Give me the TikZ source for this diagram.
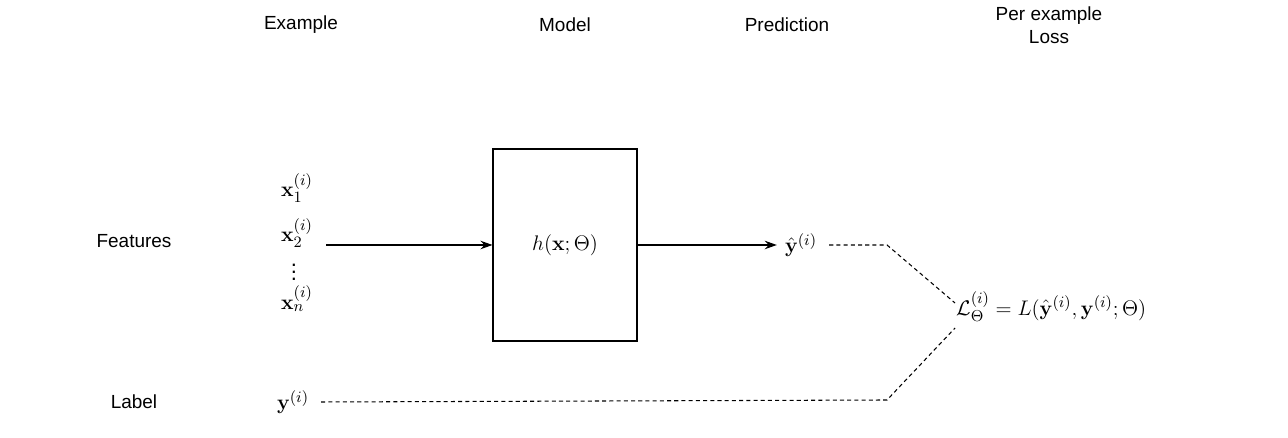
\documentclass[tikz,border=0pt]{standalone}
\usepackage{amsmath}
\usepackage[no-math]{fontspec}
\setmainfont{Liberation Sans}
\usetikzlibrary{arrows.meta,calc,positioning}
\tikzset{
  heading/.style={
    text=black,
    font=\fontsize{10.8}{13}\selectfont,
    align=center
  },
  rowlabel/.style={
    text=black,
    font=\fontsize{10.8}{13}\selectfont,
    align=center
  },
  mathlabel/.style={
    text=black,
    font=\fontsize{12.5}{15}\selectfont,
    inner sep=0.5pt
  },
  modelbox/.style={
    draw=black,
    line width=0.6pt,
    minimum width=2.88cm,
    minimum height=3.84cm,
    font=\fontsize{12.5}{15}\selectfont
  },
  flow/.style={
    -{Stealth[length=2.4mm,width=1.7mm]},
    draw=black,
    line width=0.6pt
  },
  lossline/.style={
    draw=black,
    line width=0.6pt,
    dash pattern=on 2.3pt off 1.8pt
  }
}

\begin{document}
\begin{tikzpicture}[x=1cm,y=1cm]
  \useasboundingbox (0,0) rectangle (25.76,8.76);

  % Column headings
  \node[heading] (hExample) at (6.02,8.26) {Example};
  \node[heading] (hModel) at (11.30,8.26) {Model};
  \node[heading] (hPrediction) at (15.74,8.26) {Prediction};
  \node[heading] (hLoss) at (20.98,8.25) {Per example\\Loss};

  % Row labels
  \node[rowlabel] (features) at (2.68,3.94) {Features};
  \node[rowlabel] (label) at (2.68,0.72) {Label};

  % Example: feature vector and target
  \node[mathlabel] (feat1) at (5.94,5.00) {$\mathbf{x}_1^{(i)}$};
  \node[mathlabel] (feat2) at (5.94,4.10) {$\mathbf{x}_2^{(i)}$};
  \node[mathlabel, text height=9.5pt, text depth=0pt] (featdots)
    at (5.88,3.32) {$\vdots$};
  \node[mathlabel] (featn) at (5.94,2.78) {$\mathbf{x}_n^{(i)}$};
  \node[mathlabel] (target) at (5.86,0.72) {$\mathbf{y}^{(i)}$};

  % Model and prediction
  \node[modelbox] (model) at (11.30,3.86) {$h(\mathbf{x};\Theta)$};
  \node[mathlabel] (pred) at (16.02,3.86) {$\hat{\mathbf{y}}^{(i)}$};

  % Per example loss
  \node[mathlabel, anchor=west] (loss) at (19.10,2.62)
    {$\mathcal{L}_{\Theta}^{(i)} = L(\hat{\mathbf{y}}^{(i)},\mathbf{y}^{(i)};\Theta)$};

  \coordinate (featsOut) at (6.52,3.86);
  \draw[flow] (featsOut) -- (model.west);
  \draw[flow, shorten >=4pt] (model.east) -- (pred.west);

  % Both feed the loss
  \coordinate (predBend) at (17.74,3.86);
  \coordinate (targetBend) at (17.74,0.76);
  \draw[lossline] ($(pred.east)+(0.22,0)$) -- (predBend)
    -- ($(loss.west)+(0,0.08)$);
  \draw[lossline] ($(target.east)+(0.22,0)$) -- (targetBend)
    -- ($(loss.west)+(0,-0.42)$);
\end{tikzpicture}
\end{document}
